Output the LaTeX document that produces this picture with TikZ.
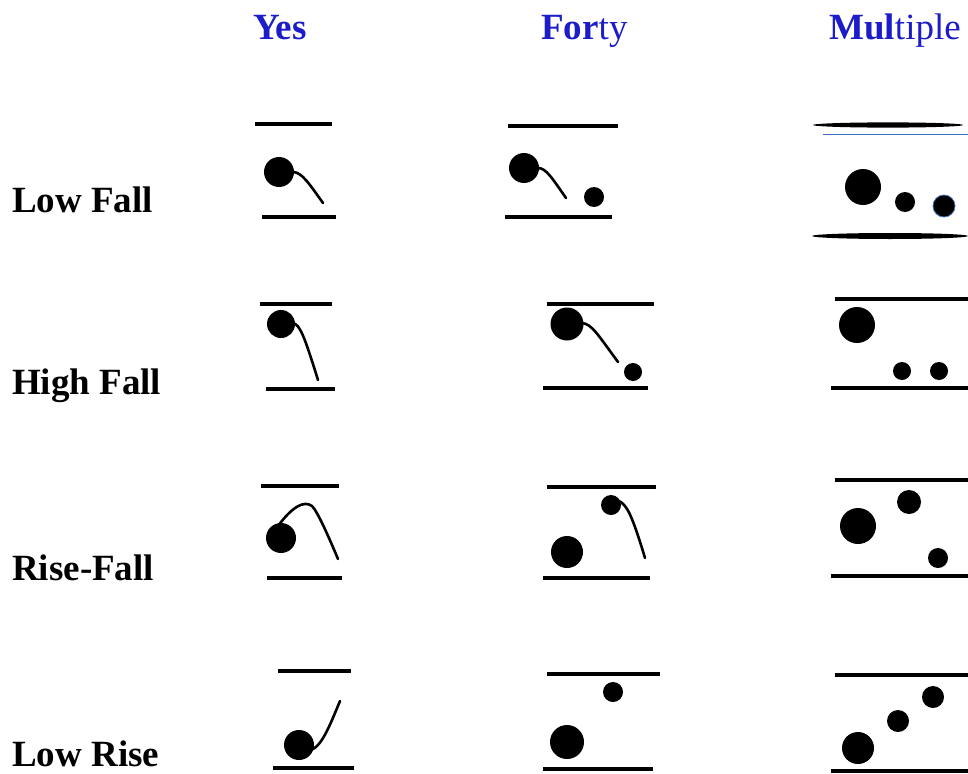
\documentclass[tikz,border=0pt]{standalone}
\usepackage{fontspec}
\setmainfont{Liberation Serif}
\usepackage{xcolor}
\usepackage{tikz}
\definecolor{headblue}{RGB}{28,28,200}
\definecolor{edgeblue}{RGB}{60,110,190}

\begin{document}
\begin{tikzpicture}[
    x=1pt, y=-1pt,
    head/.style={anchor=base west, inner sep=0pt, text=headblue, font=\fontsize{37}{40}\selectfont},
    rowlabel/.style={anchor=base west, inner sep=0pt, font=\fontsize{37}{40}\selectfont\bfseries},
    staff/.style={line width=3.4pt},
    contour/.style={line width=2.6pt, line cap=round}
]
\useasboundingbox (0,0) rectangle (968,773);

% column heads
\node[head] (yes) at (253,40) {\textbf{Yes}};
\node[head] (forty) at (541,40) {\textbf{For}ty};
\node[head] (multiple) at (829,40) {\textbf{Mul}tiple};

% row labels
\node[rowlabel] (lowfall) at (12,212) {Low Fall};
\node[rowlabel] (highfall) at (12,394) {High Fall};
\node[rowlabel] (risefall) at (12,580) {Rise-Fall};
\node[rowlabel] (lowrise) at (12,766) {Low Rise};

% Low Fall
\draw[staff] (255,124) -- (332,124);
\draw[staff] (262,217) -- (336,217);
\fill (279,172) circle (15pt);
\draw[contour] (293,172) .. controls (302,172) and (310,185) .. (323,203);

\draw[staff] (508,126) -- (618,126);
\draw[staff] (505,217) -- (612,217);
\fill (524,168) circle (15pt);
\draw[contour] (538,168) .. controls (546,168) and (552,178) .. (566,198);
\fill (594,197) circle (10pt);

\fill (888,125) ellipse [x radius=75pt, y radius=2.6pt];
\draw[edgeblue, line width=1pt] (823,134) -- (968,134);
\fill (890,236) ellipse [x radius=78pt, y radius=3pt];
\fill (863,187) circle (18pt);
\fill (905,202) circle (10pt);
\filldraw[draw=edgeblue, line width=0.8pt] (944,206) circle (11pt);

% High Fall
\draw[staff] (260,304) -- (332,304);
\draw[staff] (266,389) -- (335,389);
\fill (281,324) circle (14pt);
\draw[contour] (293,323) .. controls (300,325) and (304,335) .. (318,380);

\draw[staff] (547,304) -- (654,304);
\draw[staff] (543,388) -- (648,388);
\fill (567,324) circle (16.5pt);
\draw[contour] (582,323) .. controls (592,324) and (598,335) .. (618,362);
\fill (633,372) circle (9pt);

\draw[staff] (835,299) -- (968,299);
\draw[staff] (831,388) -- (968,388);
\fill (857,325) circle (18pt);
\fill (902,371) circle (9pt);
\fill (939,371) circle (9pt);

% Rise-Fall
\draw[staff] (261,486) -- (339,486);
\draw[staff] (267,578) -- (342,578);
\fill (281,538) circle (15pt);
\draw[contour] (278,526) .. controls (292,507) and (304,500) .. (312,506)
    .. controls (318,512) and (330,540) .. (338,559);

\draw[staff] (547,487) -- (656,487);
\draw[staff] (543,578) -- (650,578);
\fill (567,552) circle (16pt);
\fill (611,505) circle (10pt);
\draw[contour] (619,501) .. controls (627,505) and (632,515) .. (645,558);

\draw[staff] (835,480) -- (968,480);
\draw[staff] (831,576) -- (968,576);
\fill (858,526) circle (18pt);
\fill (909,502) circle (12pt);
\fill (938,558) circle (10pt);

% Low Rise
\draw[staff] (278,671) -- (351,671);
\draw[staff] (273,768) -- (354,768);
\fill (299,745) circle (15pt);
\draw[contour] (311,750) .. controls (322,746) and (330,725) .. (340,701);

\draw[staff] (547,674) -- (660,674);
\draw[staff] (543,769) -- (653,769);
\fill (567,742) circle (17pt);
\fill (613,692) circle (10pt);

\draw[staff] (835,675) -- (968,675);
\draw[staff] (831,771) -- (968,771);
\fill (858,748) circle (16pt);
\fill (898,721) circle (11pt);
\fill (933,697) circle (11pt);

\end{tikzpicture}
\end{document}
